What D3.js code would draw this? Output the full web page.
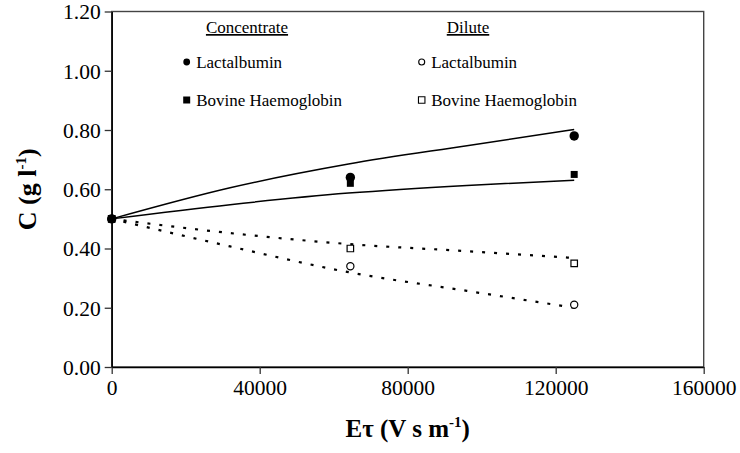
<!DOCTYPE html>
<html>
<head>
<meta charset="utf-8">
<script src="https://cdn.jsdelivr.net/npm/d3@7"></script>
<style>
  html, body { margin: 0; padding: 0; background: #fff; }
  text { font-family: 'Liberation Serif', 'Tinos', 'DejaVu Serif', serif; }
</style>
</head>
<body>
<svg id="chart" width="740" height="453"></svg>
<script>
// ---- data ----
const pointX = [0, 64500, 125000];
const concLactalbumin = [0.50, 0.64, 0.78];
const concHaemoglobin = [0.50, 0.62, 0.65];
const diluteLactalbumin = [0.50, 0.34, 0.21];
const diluteHaemoglobin = [0.50, 0.40, 0.35];

const fitX = [0, 32000, 64000, 96000, 125000];
const fitConcLactalbumin = [0.50, 0.605, 0.685, 0.747, 0.802];
const fitConcHaemoglobin = [0.50, 0.548, 0.587, 0.613, 0.630];
const fitDiluteHaemoglobin = [0.50, 0.452, 0.415, 0.391, 0.368];
const fitDiluteLactalbumin = [0.50, 0.407, 0.320, 0.257, 0.200];

const xTicks = [0, 40000, 80000, 120000, 160000];
const yTicks = [0, 0.2, 0.4, 0.6, 0.8, 1.0, 1.2];

const legendHeaders = ["Concentrate", "Dilute"];
const legendLabels = ["Lactalbumin", "Bovine Haemoglobin"];

// ---- layout ----
const FONT = "'Liberation Serif', 'Tinos', 'DejaVu Serif', serif";
const svg = d3.select("#chart");
const m = { left: 111.7, right: 703.7, top: 11.5, bottom: 367 };

const x = d3.scaleLinear().domain([0, 160000]).range([m.left, m.right]);
const y = d3.scaleLinear().domain([0, 1.2]).range([m.bottom, m.top]);

// frame (top and right)
svg.append("rect")
  .attr("x", m.left).attr("y", m.top)
  .attr("width", m.right - m.left).attr("height", m.bottom - m.top)
  .attr("fill", "none").attr("stroke", "#444").attr("stroke-width", 1.4);

// axes
const xAxis = svg.append("g")
  .attr("transform", `translate(0,${m.bottom})`)
  .call(d3.axisBottom(x).tickValues(xTicks).tickFormat(d3.format("d")).tickSize(7).tickSizeOuter(0));
const yAxis = svg.append("g")
  .attr("transform", `translate(${m.left},0)`)
  .call(d3.axisLeft(y).tickValues(yTicks).tickFormat(d3.format(".2f")).tickSize(7).tickSizeOuter(0));

[xAxis, yAxis].forEach(g => {
  g.attr("font-family", FONT).attr("font-size", 21.5);
  g.select(".domain").attr("stroke", "#000").attr("stroke-width", 1.5);
  g.selectAll(".tick line").attr("stroke", "#333").attr("stroke-width", 1.3);
  g.selectAll(".tick text").attr("fill", "#000")
    .attr("font-family", FONT).attr("font-size", 21.5);
});
xAxis.selectAll(".tick text").attr("y", 13).attr("dy", "0.71em");
yAxis.selectAll(".tick text").attr("x", -11).attr("dy", "0.34em");

// axis titles
const xt = svg.append("text")
  .attr("x", (m.left + m.right) / 2).attr("y", 437)
  .attr("text-anchor", "middle")
  .attr("font-family", FONT).attr("font-size", 25).attr("font-weight", "bold");
xt.append("tspan").text("E\u03C4 (V s m");
xt.append("tspan").attr("dy", -10).attr("font-size", 15).text("-1");
xt.append("tspan").attr("dy", 10).text(")");

const yt = svg.append("text")
  .attr("transform", `translate(36,${(m.top + m.bottom) / 2}) rotate(-90)`)
  .attr("text-anchor", "middle")
  .attr("font-family", FONT).attr("font-size", 26).attr("font-weight", "bold");
yt.append("tspan").text("C (g l");
yt.append("tspan").attr("dy", -10).attr("font-size", 15).text("-1");
yt.append("tspan").attr("dy", 10).text(")");

// fitted curves
const line = d3.line().x(d => x(d[0])).y(d => y(d[1])).curve(d3.curveMonotoneX);
const fits = [
  { v: fitConcLactalbumin, dash: null },
  { v: fitConcHaemoglobin, dash: null },
  { v: fitDiluteHaemoglobin, dash: "3,9" },
  { v: fitDiluteLactalbumin, dash: "3,9" }
];
fits.forEach(f => {
  svg.append("path")
    .datum(fitX.map((xv, i) => [xv, f.v[i]]))
    .attr("d", line)
    .attr("fill", "none")
    .attr("stroke", "#000")
    .attr("stroke-width", f.dash ? 2.2 : 1.5)
    .attr("stroke-dasharray", f.dash);
});

// markers
const circ = d3.symbol().type(d3.symbolCircle).size(Math.PI * 4.7 * 4.7);
const circOpen = d3.symbol().type(d3.symbolCircle).size(Math.PI * 3.6 * 3.6);
const sq = d3.symbol().type(d3.symbolSquare).size(7 * 7);
const sqOpen = d3.symbol().type(d3.symbolSquare).size(6.5 * 6.5);

const series = [
  { v: diluteHaemoglobin, sym: sqOpen, filled: false },
  { v: diluteLactalbumin, sym: circOpen, filled: false },
  { v: concHaemoglobin, sym: sq, filled: true },
  { v: concLactalbumin, sym: circ, filled: true }
];
series.forEach(s => {
  svg.append("g").selectAll("path")
    .data(pointX.map((xv, i) => [xv, s.v[i]]))
    .join("path")
    .attr("transform", d => `translate(${x(d[0])},${y(d[1])})`)
    .attr("d", s.sym)
    .attr("fill", s.filled ? "#000" : "#fff")
    .attr("stroke", "#000")
    .attr("stroke-width", s.filled ? 0 : 1.2);
});

// legend
const lg = svg.append("g");
const colX = [186.7, 421.7];
const headerCX = [247, 468];
legendHeaders.forEach((h, i) => {
  lg.append("text").attr("x", headerCX[i]).attr("y", 33)
    .attr("font-family", FONT).attr("font-size", 17)
    .attr("text-anchor", "middle").attr("text-decoration", "underline").text(h);
});
const rowY = [62, 100];
const legSyms = [
  [d3.symbol().type(d3.symbolCircle).size(Math.PI * 3.4 * 3.4), d3.symbol().type(d3.symbolSquare).size(49)],
  [d3.symbol().type(d3.symbolCircle).size(Math.PI * 3 * 3), d3.symbol().type(d3.symbolSquare).size(42)]
];
[0, 1].forEach(col => {
  legendLabels.forEach((lab, r) => {
    lg.append("path")
      .attr("transform", `translate(${colX[col]},${rowY[r]})`)
      .attr("d", legSyms[col][r])
      .attr("fill", col === 0 ? "#000" : "#fff")
      .attr("stroke", "#000").attr("stroke-width", col === 0 ? 0 : 1.1);
    lg.append("text").attr("x", colX[col] + 9.5).attr("y", rowY[r] + 5.5)
      .attr("font-family", FONT).attr("font-size", 17).text(lab);
  });
});
</script>
</body>
</html>
